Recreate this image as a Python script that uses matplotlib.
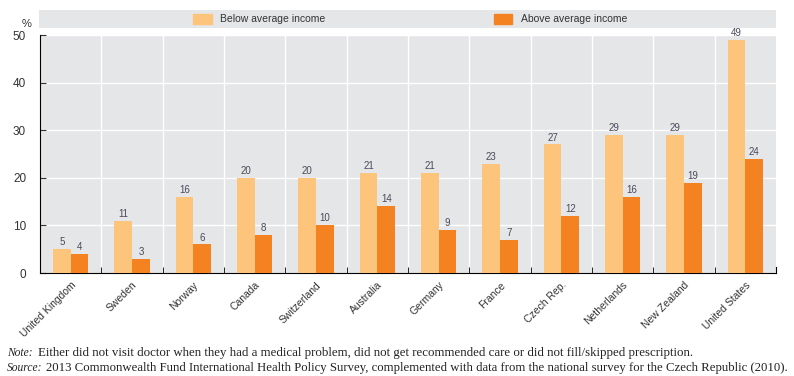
import numpy as np
import matplotlib
matplotlib.use("Agg")
import matplotlib.pyplot as plt
from matplotlib.patches import Rectangle

countries = ["United Kingdom", "Sweden", "Norway", "Canada", "Switzerland", "Australia",
             "Germany", "France", "Czech Rep.", "Netherlands", "New Zealand", "United States"]
below_avg = [5, 11, 16, 20, 20, 21, 21, 23, 27, 29, 29, 49]
above_avg = [4, 3, 6, 8, 10, 14, 9, 7, 12, 16, 19, 24]
yticks = [0, 10, 20, 30, 40, 50]

light = "#FDC57B"
dark = "#F58220"
bg = "#E5E6E8"
txt = "#333333"

plt.rcParams["font.family"] = ["Liberation Sans Narrow", "Liberation Sans", "DejaVu Sans"]

fig = plt.figure(figsize=(7.94, 3.76), dpi=100)
ax = fig.add_axes([40 / 794, 103 / 376, 736 / 794, 238 / 376])
ax.set_facecolor(bg)

x = np.arange(len(countries))
w = 0.29
ax.bar(x - w / 2, below_avg, w, color=light, zorder=3)
ax.bar(x + w / 2, above_avg, w, color=dark, zorder=3)
for xi, v in zip(x, below_avg):
    ax.text(xi - w / 2, v + 0.4, str(v), ha="center", va="bottom", fontsize=7, color="#4a4a5a", zorder=4)
for xi, v in zip(x, above_avg):
    ax.text(xi + w / 2, v + 0.4, str(v), ha="center", va="bottom", fontsize=7, color="#4a4a5a", zorder=4)

ax.set_xlim(-0.5, len(countries) - 0.5)
ax.set_ylim(0, 50)
ax.set_yticks(yticks)
ax.tick_params(axis="y", direction="in", length=4, labelsize=8.5, colors=txt, pad=10)

# grid: horizontal at y ticks, vertical at category boundaries
for y in yticks[1:]:
    ax.axhline(y, color="white", lw=1, zorder=1)
bounds = np.arange(0.5, len(countries) - 0.5, 1)
for b in bounds:
    ax.axvline(b, color="white", lw=1, zorder=1)

ax.set_xticks(bounds, minor=True)
ax.tick_params(axis="x", which="minor", direction="in", length=4, color="black")
ax.set_xticks(x)
ax.set_xticklabels(countries, rotation=45, ha="right", rotation_mode="anchor", fontsize=7.5, color=txt)
ax.tick_params(axis="x", which="major", length=0, pad=5)

ax.spines["top"].set_visible(False)
ax.spines["left"].set_color("black")
ax.spines["bottom"].set_color("black")
ax.spines["right"].set_color("black")
ax.spines["right"].set_bounds(0, 1.2)

fig.text(27 / 794, 1 - 24 / 376, "%", fontsize=8, color=txt, ha="center", va="center")

# legend band
band = fig.add_axes([39 / 794, 1 - 28 / 376, 737 / 794, 18 / 376])
band.set_xlim(0, 737)
band.set_ylim(0, 18)
band.axis("off")
band.add_patch(Rectangle((0, 0), 737, 18, color=bg))
band.add_patch(Rectangle((193 - 39, 4), 19, 10, color=light))
band.text(220 - 39, 9, "Below average income", fontsize=7.5, va="center", color=txt)
band.add_patch(Rectangle((494 - 39, 4), 18, 10, color=dark))
band.text(521 - 39, 9, "Above average income", fontsize=7.5, va="center", color=txt)

serif = ["Liberation Serif", "DejaVu Serif"]
fs = 9.3
fig.text(7 / 794, 1 - 353 / 376, "Note:", fontsize=8.3, style="italic", family=serif, va="center", color="#222222")
fig.text(38 / 794, 1 - 353 / 376,
         "Either did not visit doctor when they had a medical problem, did not get recommended care or did not fill/skipped prescription.",
         fontsize=fs, family=serif, va="center", color="#222222")
fig.text(7 / 794, 1 - 368 / 376, "Source:", fontsize=8.3, style="italic", family=serif, va="center", color="#222222")
fig.text(46 / 794, 1 - 368 / 376,
         "2013 Commonwealth Fund International Health Policy Survey, complemented with data from the national survey for the Czech Republic (2010).",
         fontsize=9.2, family=serif, va="center", color="#222222")

fig.savefig("out.png", dpi=100)
